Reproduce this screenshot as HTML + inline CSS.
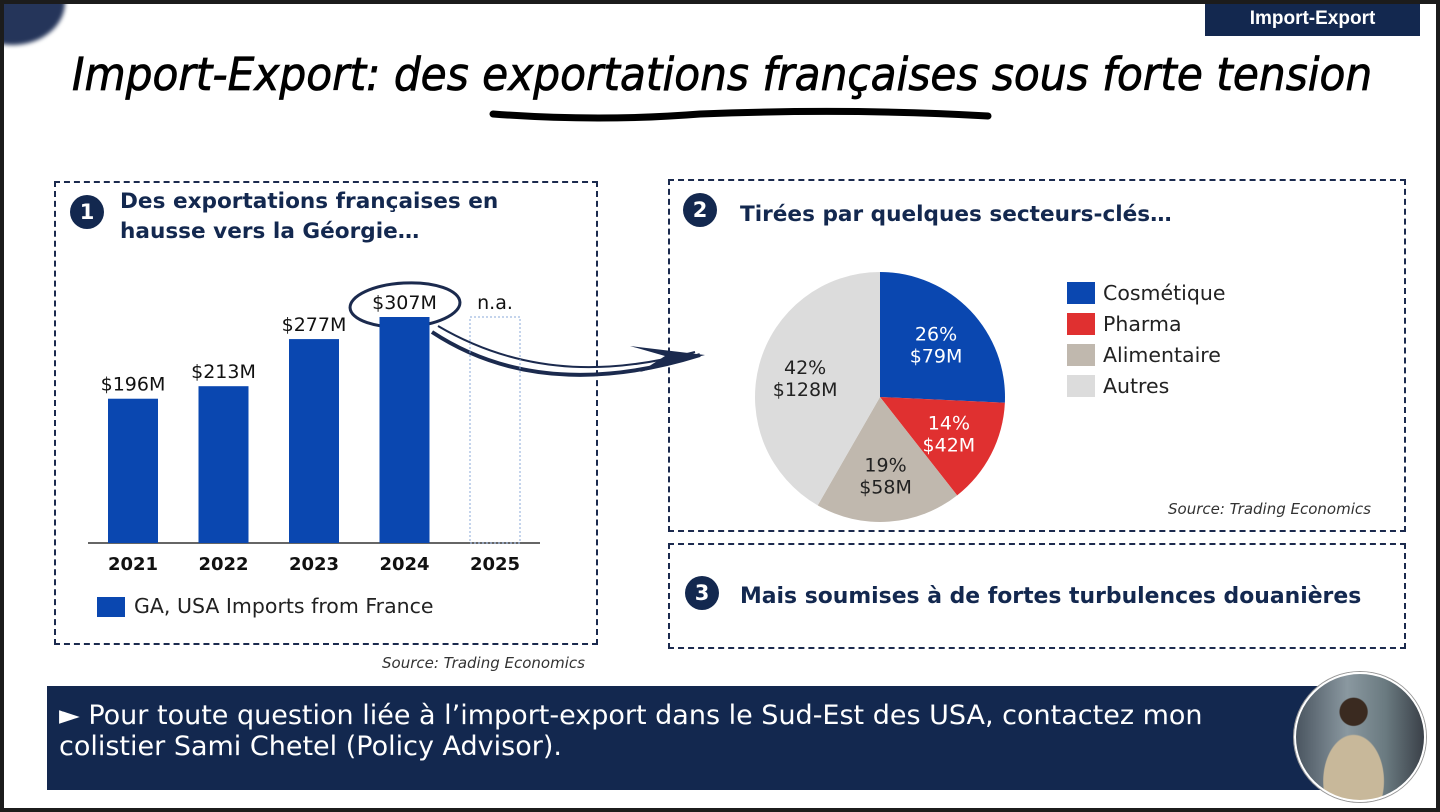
<!DOCTYPE html>
<html><head><meta charset="utf-8">
<style>
*{margin:0;padding:0;box-sizing:border-box}
body{width:1440px;height:812px;overflow:hidden;background:#fff;font-family:"DejaVu Sans",sans-serif;position:relative}
.frame{position:absolute;left:0;top:0;width:1440px;height:812px;border:4px solid #1c1c1c;pointer-events:none}
.abs{position:absolute}
.box{position:absolute;border:2px dashed #1b2a4e}
.num{position:absolute;width:34px;height:34px;border-radius:50%;background:#13284f;color:#fff;font-weight:bold;font-size:21px;text-align:center;line-height:34px}
.h{position:absolute;color:#13284f;font-weight:bold;font-size:21.6px;line-height:30px;white-space:nowrap}
.src{position:absolute;font-style:italic;font-size:15px;color:#333;white-space:nowrap}
</style></head><body>
<div class="abs" style="left:-40px;top:-40px;width:105px;height:85px;border-radius:50%;background:#25355a;filter:blur(2px)"></div>
<div class="abs" style="left:1205px;top:0;width:215px;height:36px;background:#13284f;color:#fff;font-weight:bold;font-size:19px;text-align:center;line-height:38px;font-family:'Liberation Sans',sans-serif">Import-Export</div>
<div class="abs" style="left:72px;top:48px;width:1300px;font-size:45px;font-style:italic;color:#000;white-space:nowrap;font-family:'DejaVu Sans',sans-serif;transform:scaleX(0.94);transform-origin:left;-webkit-text-stroke:0.8px #000">Import-Export: des exportations françaises sous forte tension</div>
<svg class="abs" style="left:0;top:0" width="1440" height="812">
<path d="M493 114 Q600 122 700 114 Q850 108 988 116" stroke="#000" stroke-width="7" fill="none" stroke-linecap="round"/>
<path d="M432 332 C520 390 620 380 700 355" stroke="#1b2a4e" stroke-width="4" fill="none"/>
<path d="M438 326 C530 380 620 372 695 352" stroke="#1b2a4e" stroke-width="2" fill="none"/>
<path d="M630 346 L705 355 L640 372 L665 356 Z" fill="#1b2a4e"/>
<ellipse cx="405" cy="305" rx="55" ry="22" stroke="#1b2a4e" stroke-width="3" fill="none" transform="rotate(-3 405 305)"/>
</svg>
<div class="box" style="left:54px;top:181px;width:544px;height:464px"></div>
<div class="num" style="left:70px;top:195px">1</div>
<div class="h" style="left:120px;top:187px">Des exportations françaises en<br>hausse vers la Géorgie…</div>
<svg id="bar" class="abs" style="left:0;top:0" width="620" height="660"></svg>
<div class="abs" style="left:97px;top:597px;width:28px;height:20px;background:#0a47b0"></div>
<div class="abs" style="left:134px;top:594px;font-size:20.5px;color:#222;white-space:nowrap">GA, USA Imports from France</div>
<div class="src" style="left:382px;top:654px">Source: Trading Economics</div>

<div class="box" style="left:668px;top:179px;width:738px;height:353px"></div>
<div class="num" style="left:683px;top:193px">2</div>
<div class="h" style="left:740px;top:200px">Tirées par quelques secteurs-clés…</div>
<svg id="pie" class="abs" style="left:740px;top:260px" width="280" height="275"></svg>
<div id="legend" class="abs" style="left:1067px;top:277px"></div>
<div class="src" style="left:1168px;top:500px">Source: Trading Economics</div>

<div class="box" style="left:668px;top:543px;width:738px;height:106px"></div>
<div class="num" style="left:685px;top:576px">3</div>
<div class="h" style="left:740px;top:582px;font-size:21.9px">Mais soumises à de fortes turbulences douanières</div>

<div class="abs" style="left:47px;top:686px;width:1280px;height:104px;background:#13284f;color:#fff;font-size:27px;line-height:31px;padding:14px 0 0 12px;white-space:nowrap">► Pour toute question liée à l’import-export dans le Sud-Est des USA, contactez mon<br>colistier Sami Chetel (Policy Advisor).</div>
<div class="abs" style="left:1294px;top:672px;width:132px;height:130px;border-radius:50%;border:2px solid #fff;background:radial-gradient(circle at 45% 30%,#3a2a20 0 12%,transparent 13%),radial-gradient(ellipse at 45% 85%,#c8b89a 0 30%,transparent 31%),linear-gradient(90deg,#4a5560,#8a98a0 40%,#6a7a80 70%,#3a4048);box-shadow:0 0 0 1px #999"></div>
<div class="frame"></div>
<script>
const years=["2021","2022","2023","2024","2025"];
const values=[196,213,277,307,null];
const labels=["$196M","$213M","$277M","$307M","n.a."];
const sectors=["Cosmétique","Pharma","Alimentaire","Autres"];
const sectorValues=[79,42,58,128];
const sectorPct=["26%","14%","19%","42%"];
const sectorLbl=["$79M","$42M","$58M","$128M"];
const colors=["#0a47b0","#e03030","#c0b8ae","#dcdcdc"];
const NS="http://www.w3.org/2000/svg";
function mk(t,a,p){const e=document.createElementNS(NS,t);for(const k in a)e.setAttribute(k,a[k]);p.appendChild(e);return e;}
const bar=document.getElementById('bar');
const base=543,scale=226/307,x0=108,step=90.5,bw=50;
const y=v=>base-v*scale, xb=i=>x0+i*step;
const maxV=Math.max(...values.filter(v=>v!=null));
mk('line',{x1:88,x2:540,y1:base,y2:base,stroke:'#333','stroke-width':1.5},bar);
years.forEach((yr,i)=>{
  let r;
  if(values[i]!=null){
    r=mk('rect',{x:xb(i),y:y(values[i]),width:bw,height:values[i]*scale,fill:'#0a47b0'},bar);
  }else{
    r=mk('rect',{x:xb(i),y:y(maxV),width:bw,height:maxV*scale,fill:'none',stroke:'#8aa8d8','stroke-dasharray':'2 2'},bar);
  }
  
  
  const top=values[i]!=null?y(values[i]):y(maxV);
  const t=mk('text',{x:xb(i)+bw/2,y:top-8,'text-anchor':'middle','font-size':19,fill:'#111','font-family':'DejaVu Sans'},bar);
  t.textContent=labels[i];
  
  
  const xt=mk('text',{x:xb(i)+bw/2,y:570,'text-anchor':'middle','font-size':18,'font-weight':'bold',fill:'#111','font-family':'DejaVu Sans'},bar);
  xt.textContent=yr;
  
  
});
const pie=document.getElementById('pie');
const cx=140,cy=137,R=125;
const total=sectorValues.reduce((a,b)=>a+b,0);
let a0=-Math.PI/2;
sectorValues.forEach((v,i)=>{
  const a1=a0+v/total*2*Math.PI;
  const large=(a1-a0)>Math.PI?1:0;
  const p=mk('path',{d:`M${cx},${cy} L${cx+R*Math.cos(a0)},${cy+R*Math.sin(a0)} A${R},${R} 0 ${large} 1 ${cx+R*Math.cos(a1)},${cy+R*Math.sin(a1)} Z`,fill:colors[i]},pie);
  
  
  const am=(a0+a1)/2,lr=R*0.62;
  const lx=cx+lr*Math.cos(am),ly=cy+lr*Math.sin(am);
  const fc=(i<2)?'#fff':'#222';
  const t=mk('text',{x:lx,y:ly-3,'text-anchor':'middle','font-size':19,fill:fc,'font-family':'DejaVu Sans'},pie);
  t.textContent=sectorPct[i];
  
  
  const t2=mk('text',{x:lx,y:ly+19,'text-anchor':'middle','font-size':19,fill:fc,'font-family':'DejaVu Sans'},pie);
  t2.textContent=sectorLbl[i];
  
  
  a0=a1;
});
const lg=document.getElementById('legend');
sectors.forEach((s,i)=>{
  const d=document.createElement('div');
  
  
  d.style.cssText='display:flex;align-items:center;height:31px;font-size:20.5px;color:#222;white-space:nowrap';
  d.innerHTML=`<span style="display:inline-block;width:28px;height:22px;background:${colors[i]};margin-right:8px"></span>${s}`;
  lg.appendChild(d);
});
</script>
</body></html>
